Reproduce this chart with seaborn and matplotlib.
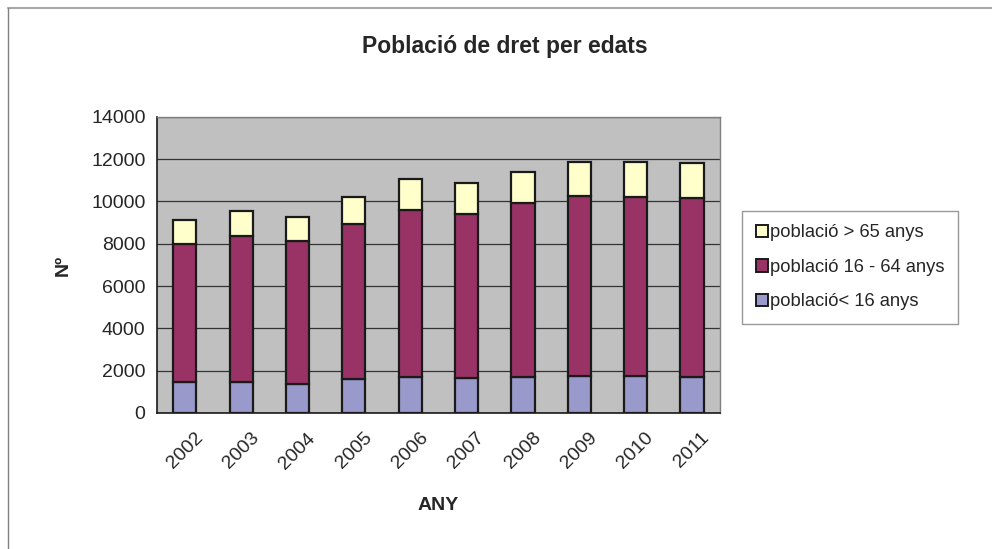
import numpy as np
import pandas as pd
import matplotlib
matplotlib.use("Agg")
import matplotlib.pyplot as plt
import seaborn as sns
from matplotlib.patches import Patch
from matplotlib.lines import Line2D

# --- data ---
anys = ["2002", "2003", "2004", "2005", "2006", "2007", "2008", "2009", "2010", "2011"]
menors_16 = [1480, 1465, 1355, 1605, 1685, 1655, 1715, 1750, 1730, 1700]
de_16_64 = [6500, 6880, 6755, 7340, 7935, 7775, 8205, 8520, 8505, 8455]
majors_65 = [1150, 1215, 1165, 1275, 1435, 1435, 1495, 1620, 1655, 1655]

series_names = ["població< 16 anys", "població 16 - 64 anys", "població > 65 anys"]
colors = ["#9999CC", "#993366", "#FFFFCC"]

df = pd.DataFrame({"ANY": anys, "menors": menors_16, "mitjans": de_16_64, "majors": majors_65})

sns.set_style("white")
plt.rcParams["font.family"] = ["Liberation Sans", "DejaVu Sans"]

fig = plt.figure(figsize=(9.92, 5.49), dpi=100)
ax = fig.add_axes([0.158, 0.248, 0.568, 0.539])
ax.set_facecolor("#C0C0C0")

bottom = np.zeros(len(anys))
for col, name, c in zip(["menors", "mitjans", "majors"], series_names, colors):
    sns.barplot(data=df, x="ANY", y=col, order=anys, color=c, width=0.41,
                bottom=bottom, edgecolor="#1a1a1a", linewidth=1.6,
                saturation=1, ax=ax, zorder=3)
    bottom = bottom + df[col].values

ax.set_ylim(0, 14000)
ax.set_xlim(-0.5, len(anys) - 0.5)
ax.set_yticks(range(0, 14001, 2000))
ax.yaxis.grid(True, color="#333333", linewidth=0.9, zorder=0)
ax.set_axisbelow(True)

# x tick marks sit between the categories
ax.set_xticks(range(len(anys)))
ax.set_xticklabels(anys, rotation=45, fontsize=14)
ax.set_xticks(np.arange(-0.5, len(anys), 1), minor=True)
ax.tick_params(axis="x", which="major", length=0, pad=12)
ax.tick_params(axis="x", which="minor", length=5, color="#333333", width=0.9, direction="out")
ax.tick_params(axis="y", length=5, color="#333333", width=0.9, direction="out", labelsize=14, pad=3)
for lbl in ax.get_xticklabels():
    lbl.set_ha("center")

for s in ["top", "right"]:
    ax.spines[s].set_color("#808080")
    ax.spines[s].set_linewidth(1.0)
for s in ["left", "bottom"]:
    ax.spines[s].set_color("#1a1a1a")
    ax.spines[s].set_linewidth(1.2)

ax.set_xlabel("ANY", fontsize=14, fontweight="bold", labelpad=18)
ax.set_ylabel("Nº", fontsize=14, fontweight="bold", labelpad=14)
fig.text(0.509, 0.915, "Població de dret per edats", ha="center", va="center",
         fontsize=16.5, fontweight="bold")

handles = [Patch(facecolor=c, edgecolor="#1a1a1a", linewidth=1.4) for c in colors[::-1]]
leg = fig.legend(handles, series_names[::-1], loc="center left",
                 bbox_to_anchor=(0.748, 0.513), frameon=True, fancybox=False,
                 fontsize=13.2, handlelength=0.65, handleheight=0.65, handletextpad=0.1,
                 labelspacing=0.95, borderpad=0.75, borderaxespad=0)
leg.get_frame().set_edgecolor("#808080")
leg.get_frame().set_linewidth(1.0)

# outer chart border (top and left edges visible in the reference)
fig.add_artist(Line2D([8 / 992, 1.0], [1 - 8 / 549, 1 - 8 / 549], color="#A8A8A8", linewidth=1.5))
fig.add_artist(Line2D([8 / 992, 8 / 992], [0, 1 - 8 / 549], color="#808080", linewidth=1.0))

fig.savefig("out.png", dpi=100)
